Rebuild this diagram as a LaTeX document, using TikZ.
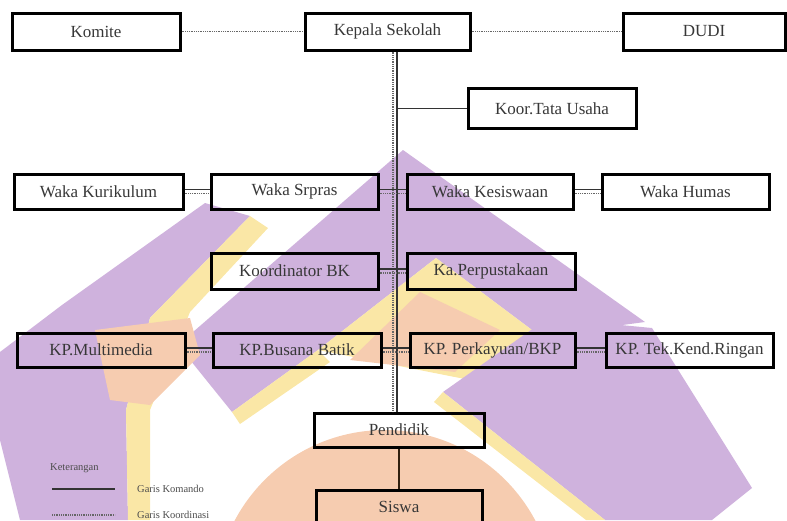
\documentclass[tikz,border=0pt]{standalone}
\usepackage{fontspec}
\setmainfont{Liberation Serif}
\usetikzlibrary{positioning}
\definecolor{wmpurple}{RGB}{207,178,221}
\definecolor{wmyellow}{RGB}{250,231,166}
\definecolor{wmpeach}{RGB}{246,204,176}
\definecolor{boxtext}{RGB}{55,55,55}
\tikzset{
  jabatan/.style={draw=black, line width=3pt, minimum width=167pt, minimum height=35pt, inner sep=0pt, text=boxtext, font=\fontsize{17}{17}\selectfont},
  komando/.style={line width=1.4pt, color=black!80},
  koordinasi/.style={line width=1.8pt, color=black!60, dash pattern=on 1pt off 0.8pt},
  legenda/.style={text=black!70, font=\fontsize{10.5}{10.5}\selectfont, inner sep=0pt},
}

\begin{document}
\begin{tikzpicture}[x=1pt, y=-1pt]
\useasboundingbox (0,0) rectangle (787,520);

% logo di latar
\fill[wmpurple] (205,203) -- (250,216) -- (150,318) -- (126,410) -- (128,520) -- (20,520) -- (0,440) -- (0,352) -- (62,305) -- cycle;
\fill[wmyellow] (250,216) -- (268,228) -- (190,312) -- (150,410) -- (150,520) -- (128,520) -- (126,410) -- (150,318) -- cycle;
\fill[wmpurple] (403,150) -- (645,322) -- (540,336) -- (436,258) -- (318,350) -- (232,412) -- (178,345) -- cycle;
\fill[wmyellow] (436,258) -- (540,336) -- (470,380) -- (318,350) -- cycle;
\fill[wmpeach] (420,292) -- (500,330) -- (455,372) -- (350,360) -- cycle;
\fill[wmyellow] (318,350) -- (232,412) -- (240,424) -- (330,362) -- cycle;
\fill[wmpeach] (95,330) -- (190,318) -- (200,355) -- (150,405) -- (110,400) -- cycle;
\fill[wmpurple] (443,392) -- (548,318) -- (652,328) -- (752,488) -- (712,520) -- (605,520) -- cycle;
\fill[wmyellow] (434,402) -- (443,392) -- (605,520) -- (586,520) -- cycle;
\fill[wmpeach] (385,600) circle (170);

% kotak jabatan
\node[jabatan, minimum width=168pt, minimum height=37pt] (komite) at (96,31.5) {Komite};
\node[jabatan, minimum width=165pt, minimum height=37pt] (kepsek) at (387.5,31.5) {Kepala Sekolah};
\node[jabatan, minimum width=162pt, minimum height=37pt] (dudi) at (704,31.5) {DUDI};
\node[jabatan, minimum width=168pt, minimum height=40pt] (tu) at (552,108.5) {Koor.Tata Usaha};

\node[jabatan, minimum width=169pt] (kurikulum) at (98.5,191.5) {Waka Kurikulum};
\node[jabatan] (sarpras) at (294.5,191.5) {Waka Srpras};
\node[jabatan, minimum width=166pt] (kesiswaan) at (490,191.5) {Waka Kesiswaan};
\node[jabatan] (humas) at (685.5,191.5) {Waka Humas};

\node[jabatan, minimum height=36pt] (bk) at (294.5,271) {Koordinator BK};
\node[jabatan, minimum width=168pt, minimum height=36pt] (perpus) at (491,271) {Ka.Perpustakaan};

\node[jabatan, minimum width=168pt, minimum height=34pt] (multimedia) at (101,350) {KP.Multimedia};
\node[jabatan, minimum width=168pt, minimum height=34pt] (busana) at (297,350) {KP.Busana Batik};
\node[jabatan, minimum width=165pt, minimum height=34pt] (perkayuan) at (492.5,350) {KP. Perkayuan/BKP};
\node[jabatan, minimum height=34pt] (otomotif) at (689.5,350) {KP. Tek.Kend.Ringan};

\node[jabatan, minimum width=170pt, minimum height=34pt] (pendidik) at (399,430) {Pendidik};
\node[jabatan, minimum width=166pt, minimum height=34pt] (siswa) at (399,507) {Siswa};

% garis tengah
\coordinate (sk) at (397,0);
\coordinate (sd) at (393,0);
\draw[komando] (kepsek.south -| sk) -- (pendidik.north -| sk);
\draw[koordinasi] (kepsek.south -| sd) -- (pendidik.north -| sd);

\draw[koordinasi] (komite) -- (kepsek);
\draw[koordinasi] (kepsek) -- (dudi);
\draw[komando] (tu.west -| sk) -- (tu.west);

\foreach \a/\b in {kurikulum/sarpras, sarpras/kesiswaan, kesiswaan/humas, bk/perpus, multimedia/busana, busana/perkayuan, perkayuan/otomotif}{
  \draw[komando] ([yshift=2pt]\a.east) -- ([yshift=2pt]\b.west);
  \draw[koordinasi] ([yshift=-2pt]\a.east) -- ([yshift=-2pt]\b.west);
}
\draw[komando, color=black!75!brown] (pendidik) -- (siswa);

% keterangan
\node[legenda, anchor=west] (ket) at (50,468) {Keterangan};
\coordinate (k1) at (52,489);
\coordinate (k2) at (115,489);
\coordinate (k3) at (52,515);
\coordinate (k4) at (115,515);
\draw[komando] (k1) -- (k2);
\draw[koordinasi] (k3) -- (k4);
\node[legenda, right=22pt of k2] (gk) {Garis Komando};
\node[legenda, right=22pt of k4] (gko) {Garis Koordinasi};

\end{tikzpicture}
\end{document}
